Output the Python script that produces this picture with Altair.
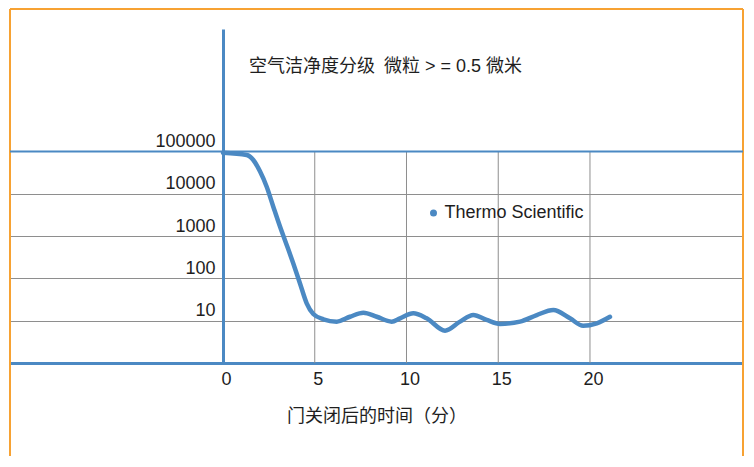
import altair as alt
import pandas as pd

# ---- data ----
minutes = [0.0, 1.29, 1.65, 2.02, 2.38, 2.74, 3.11, 3.47, 3.83, 4.20, 4.56, 4.92,
           5.47, 6.20, 6.92, 7.65, 8.38, 9.19, 9.65, 10.37, 11.10, 12.10, 12.92,
           13.64, 14.37, 15.10, 16.19, 17.10, 18.0, 18.91, 19.63, 20.37, 21.09]
particles = [93000, 82600, 63000, 33500, 14700, 4960, 1660, 617, 225, 75, 25.8, 14.4,
             10.8, 9.5, 12.4, 15.5, 12.4, 9.5, 11.4, 15.0, 11.4, 5.8, 9.5,
             13.6, 10.4, 8.4, 9.5, 13.6, 17.9, 11.4, 7.6, 8.7, 12.4]
series_name = "Thermo Scientific"
y_ticks = [10, 100, 1000, 10000, 100000]
x_ticks = [0, 5, 10, 15, 20]
grid_x = [5, 10, 15, 20]
chart_title = "空气洁净度分级\u2002微粒 > = 0.5 微米"
x_title = "门关闭后的时间（分）"

# ---- styling ----
W, H = 733, 334
BLUE = "#4b89c3"
GRID = "#8e8e8e"
ORANGE = "#f7a233"
TXT = "#1e1e1e"
LATIN = "Liberation Sans"
MIXED = "Liberation Sans, Noto Sans CJK SC"
FTOP, FBOT = -20, 427

df = pd.DataFrame({"minutes": minutes, "particles": particles,
                   "series": [series_name] * len(minutes)})
one = pd.DataFrame({"k": [0]})

xs = alt.Scale(domain=[-11.61, 28.34], nice=False, zero=False)
ys = alt.Scale(type="log", domain=[1, 7.87e7], nice=False)

frame_left = alt.Chart(one).mark_rule(color=ORANGE, strokeWidth=2).encode(
    x=alt.value(0), y=alt.value(FTOP), y2=alt.value(FBOT))
frame_right = alt.Chart(one).mark_rule(color=ORANGE, strokeWidth=2).encode(
    x=alt.value(W), y=alt.value(FTOP), y2=alt.value(FBOT))
frame_top = alt.Chart(one).mark_rule(color=ORANGE, strokeWidth=2).encode(
    x=alt.value(0), x2=alt.value(W), y=alt.value(FTOP))

x_axis = alt.Axis(values=x_ticks, title=x_title, grid=False, ticks=False,
                  domainColor=BLUE, domainWidth=3,
                  labelFont=LATIN, labelFontSize=18, labelColor=TXT,
                  labelPadding=7, labelOffset=3,
                  titleFont=MIXED, titleFontSize=18, titleFontWeight="normal",
                  titleColor=TXT, titlePadding=19)
y_axis = alt.Axis(values=y_ticks, format="d", offset=-213, title=None,
                  grid=True, gridColor=GRID, gridWidth=1, ticks=False,
                  domainColor=BLUE, domainWidth=3,
                  labelFont=LATIN, labelFontSize=18, labelColor=TXT,
                  labelPadding=8, labelBaseline="alphabetic", labelOffset=-5)

gv = pd.DataFrame({"minutes": grid_x, "particles": [1] * len(grid_x),
                   "hi": [100000] * len(grid_x)})
grid_v = alt.Chart(gv).mark_rule(color=GRID, strokeWidth=1).encode(
    x=alt.X("minutes:Q", scale=xs, axis=x_axis),
    y=alt.Y("particles:Q", scale=ys, axis=y_axis),
    y2="hi:Q")

top_line = alt.Chart(pd.DataFrame({"particles": [100000]})).mark_rule(
    color=BLUE, strokeWidth=2).encode(
    y=alt.Y("particles:Q", scale=ys, axis=y_axis))

line = alt.Chart(df).mark_line(strokeWidth=4.5, interpolate="monotone",
                               strokeCap="round", strokeJoin="round").encode(
    x=alt.X("minutes:Q", scale=xs, axis=x_axis),
    y=alt.Y("particles:Q", scale=ys, axis=y_axis),
    color=alt.Color("series:N", scale=alt.Scale(range=[BLUE]),
                    legend=alt.Legend(orient="none", legendX=414.5, legendY=175, title=None,
                                      padding=0, symbolType="circle", symbolSize=9,
                                      symbolStrokeWidth=4, symbolFillColor=BLUE,
                                      labelFont=LATIN, labelFontSize=18, labelColor=TXT,
                                      labelOffset=2)))

title_mark = alt.Chart(pd.DataFrame({"t": [chart_title]})).mark_text(
    align="left", baseline="middle", font=MIXED, fontSize=18, color=TXT).encode(
    x=alt.value(239), y=alt.value(38), text="t:N")

chart = alt.layer(
    frame_left, frame_right, frame_top, grid_v, top_line, line, title_mark
).properties(
    width=W, height=H, background="white",
    padding={"left": 1, "top": 0, "right": 0, "bottom": 0}
).configure_view(stroke=None)

chart.save("out.html", embed_options={"renderer": "svg", "actions": False})
